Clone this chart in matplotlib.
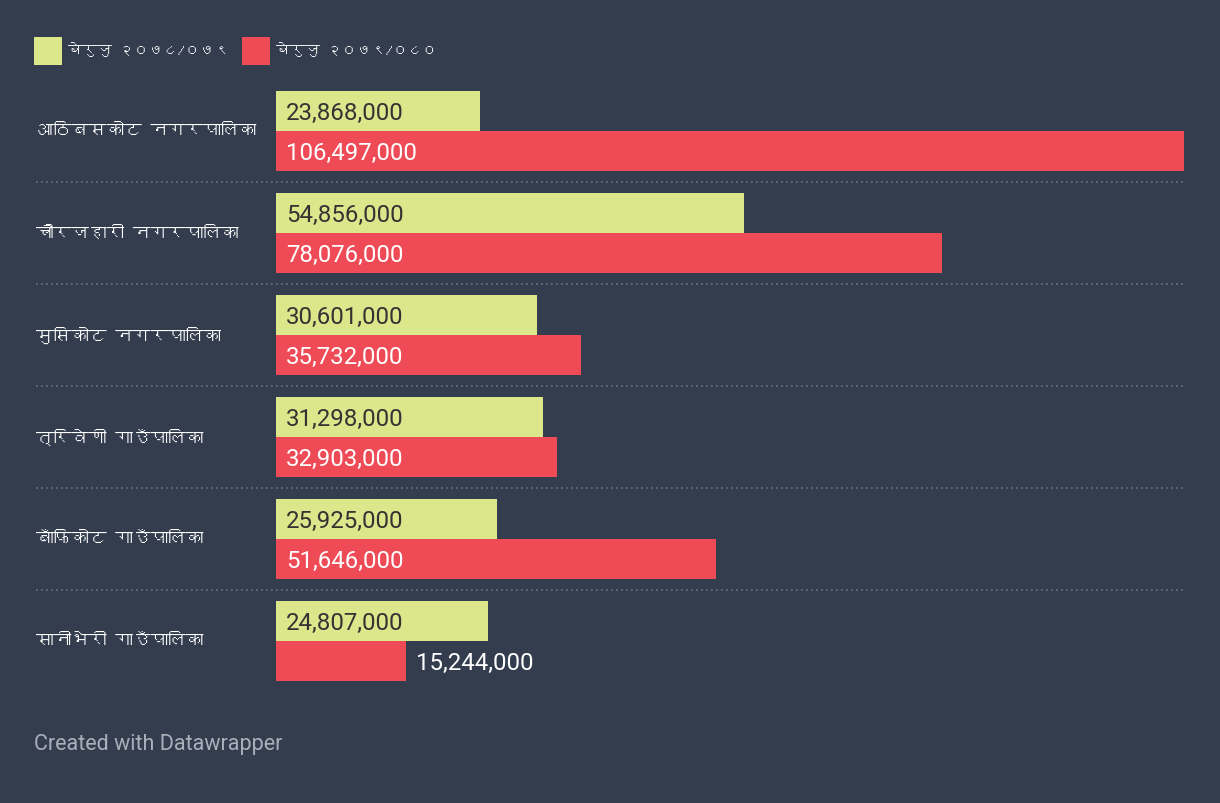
import matplotlib
matplotlib.use("Agg")
import matplotlib.pyplot as plt
from matplotlib import font_manager
from matplotlib.ft2font import FT2Font
import matplotlib.transforms as mtransforms

categories = ["आठिबसकोट नगरपालिका", "चौरजहारी नगरपालिका", "मुसिकोट नगरपालिका",
              "त्रिवेणी गाउँपालिका", "बाँफिकोट गाउँपालिका", "सानीभेरी गाउँपालिका"]
series_names = ["बेरुजु २०७८/०७९", "बेरुजु २०७९/०८०"]
values_2078 = [23868000, 54856000, 30601000, 31298000, 25925000, 24807000]
values_2079 = [106497000, 78076000, 35732000, 32903000, 51646000, 15244000]

BG = "#333d4e"
YELLOW = "#dbe78a"
RED = "#ef4b57"

# find a font with Devanagari glyphs
deva_font = None
for fe in font_manager.fontManager.ttflist:
    try:
        cm = FT2Font(fe.fname).get_charmap()
        if 0x0906 in cm and 0x0915 in cm:
            deva_font = fe.name
            break
    except Exception:
        pass
fams = ([deva_font] if deva_font else []) + ["Roboto", "DejaVu Sans"]

W, H = 1220, 804
fig = plt.figure(figsize=(W / 100, H / 100), dpi=100, facecolor=BG)

x0, x1 = 276, 1184
ytop, ybot = 81, 693
ax = fig.add_axes([x0 / W, (H - ybot) / H, (x1 - x0) / W, (ybot - ytop) / H])
ax.set_facecolor(BG)
ax.set_xlim(0, max(values_2079))
n = len(categories)
ax.set_ylim(n - 0.5, -0.5)
for s in ax.spines.values():
    s.set_visible(False)
ax.set_xticks([])
ax.set_yticks([])

bh = 40 / 102
ypos = list(range(n))
ax.barh([y - bh / 2 for y in ypos], values_2078, height=bh, color=YELLOW, linewidth=0)
ax.barh([y + bh / 2 for y in ypos], values_2079, height=bh, color=RED, linewidth=0)

xmax = max(values_2079)
pad = 10 / 908 * xmax
VFS = 17.3
for i, (a, b) in enumerate(zip(values_2078, values_2079)):
    ax.text(pad, i - bh / 2 + 0.01, f"{a:,}", va="center", ha="left", fontsize=VFS,
            family="Roboto", color="#333333")
    lbl = f"{b:,}"
    if b / xmax * 908 > 140:
        ax.text(pad, i + bh / 2 + 0.01, lbl, va="center", ha="left", fontsize=VFS,
                family="Roboto", color="white")
    else:
        ax.text(b + pad, i + bh / 2 + 0.01, lbl, va="center", ha="left", fontsize=VFS,
                family="Roboto", color="white")
    # category label
    fig.text(36 / W, 1 - (131 + 102 * i) / H, categories[i], ha="left", va="center",
             fontsize=12.7, color="white", family=fams)

# dotted separators
trans = mtransforms.blended_transform_factory(fig.transFigure, ax.transData)
for i in range(n - 1):
    ax.plot([36 / W, x1 / W], [i + 0.5, i + 0.5], transform=trans, clip_on=False,
            color="#6b7585", linestyle=(0, (1, 2)), linewidth=1.2)

# legend
for k, (name, col, lx) in enumerate(zip(series_names, [YELLOW, RED], [34, 242])):
    fig.patches.append(plt.Rectangle((lx / W, 1 - 66 / H), 28 / W, 28 / H,
                                     transform=fig.transFigure, color=col, linewidth=0))
    fig.text((lx + 34) / W, 1 - 50 / H, name, ha="left", va="center",
             fontsize=10.5, color="white", family=fams)

fig.text(34 / W, 1 - 745 / H, "Created with Datawrapper", ha="left", va="center",
         fontsize=15.5, color="#aab0ba", family="Roboto")

fig.savefig("out.png", dpi=100, facecolor=BG)
